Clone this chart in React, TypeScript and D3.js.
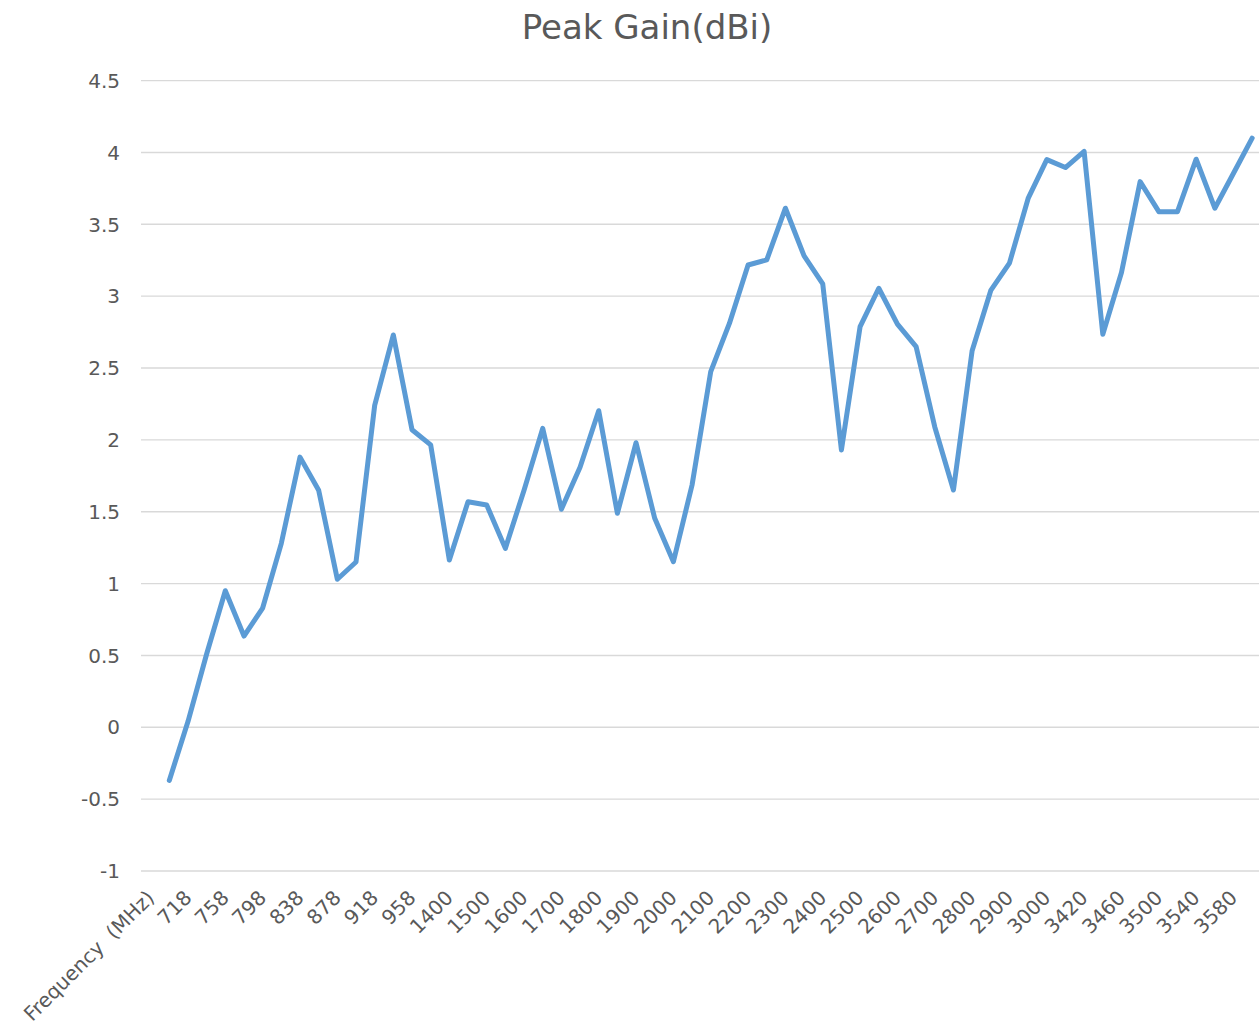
import React from "react";
import * as d3 from "d3";

const title = "Peak Gain(dBi)";
const firstCategory = "Frequency  (MHz)";
const frequencies = [
  698, 718, 738, 758, 778, 798, 818, 838, 858, 878, 898, 918, 938, 958, 960,
  1400, 1450, 1500, 1550, 1600, 1650, 1700, 1750, 1800, 1850, 1900, 1950, 2000,
  2050, 2100, 2150, 2200, 2250, 2300, 2350, 2400, 2450, 2500, 2550, 2600, 2650,
  2700, 2750, 2800, 2850, 2900, 2950, 3000, 3400, 3420, 3440, 3460, 3480, 3500,
  3520, 3540, 3560, 3580, 3600,
];
const gains = [
  -0.37, 0.04, 0.51, 0.95, 0.635, 0.83, 1.28, 1.88, 1.65, 1.03, 1.15, 2.24, 2.73,
  2.07, 1.965, 1.164, 1.57, 1.547, 1.245, 1.65, 2.08, 1.517, 1.81, 2.203, 1.489,
  1.98, 1.454, 1.152, 1.686, 2.475, 2.81, 3.217, 3.252, 3.612, 3.28, 3.085, 1.93,
  2.788, 3.055, 2.806, 2.649, 2.09, 1.651, 2.62, 3.04, 3.23, 3.68, 3.95, 3.895,
  4.007, 2.735, 3.164, 3.797, 3.588, 3.588, 3.953, 3.612, 3.855, 4.1,
];
const yTicks = [-1, -0.5, 0, 0.5, 1, 1.5, 2, 2.5, 3, 3.5, 4, 4.5];

const width = 1259;
const height = 1036;
const font = "'DejaVu Sans', 'Liberation Sans', Arial, sans-serif";
const textColor = "#595959";

const App = () => {
  const categories = [firstCategory, ...frequencies.map(String)];

  const x = d3
    .scaleBand()
    .domain(categories)
    .range([141.3, 1261.5])
    .padding(0);
  const y = d3.scaleLinear().domain([-1, 4.5]).range([871, 80.6]);
  const cx = (c) => x(c) + x.bandwidth() / 2;

  const points = frequencies.map((f, i) => ({ cat: String(f), v: gains[i] }));
  const line = d3
    .line()
    .x((d) => cx(d.cat))
    .y((d) => y(d.v));

  // every other category gets a label
  const labelled = categories.filter((c, i) => i % 2 === 0);

  return (
    <div style={{ position: "absolute", left: 0, top: 0 }}>
      <svg width={width} height={height} style={{ display: "block" }}>
        <rect width={width} height={height} fill="#ffffff" />
        <text
          x={647}
          y={39}
          textAnchor="middle"
          fontFamily={font}
          fontSize={34}
          fill={textColor}
        >
          {title}
        </text>
        <g>
          {yTicks.map((t) => (
            <g key={t}>
              <line
                x1={141}
                x2={width}
                y1={y(t)}
                y2={y(t)}
                stroke="#d9d9d9"
                strokeWidth={1.4}
              />
              <text
                x={120}
                y={y(t)}
                dy="0.36em"
                textAnchor="end"
                fontFamily={font}
                fontSize={20}
                fill={textColor}
              >
                {t}
              </text>
            </g>
          ))}
        </g>
        <g>
          {labelled.map((c) => (
            <text
              key={c}
              transform={`translate(${cx(c)},894) rotate(-45)`}
              dy="0.35em"
              textAnchor="end"
              fontFamily={font}
              fontSize={20}
              fill={textColor}
              style={{ whiteSpace: "pre" }}
            >
              {c}
            </text>
          ))}
        </g>
        <path
          d={line(points)}
          fill="none"
          stroke="#5b9bd5"
          strokeWidth={5}
          strokeLinejoin="round"
          strokeLinecap="round"
        />
      </svg>
    </div>
  );
};

export default App;
